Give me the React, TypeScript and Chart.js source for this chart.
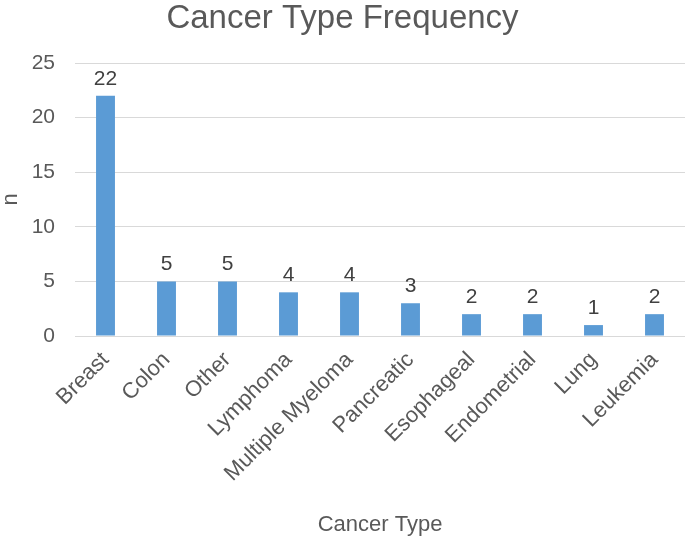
import React, { useEffect, useRef } from "react";
import { Chart, registerables } from "chart.js";

Chart.register(...registerables);

const categories = [
  "Breast",
  "Colon",
  "Other",
  "Lymphoma",
  "Multiple Myeloma",
  "Pancreatic",
  "Esophageal",
  "Endometrial",
  "Lung",
  "Leukemia",
];
const counts = [22, 5, 5, 4, 4, 3, 2, 2, 1, 2];
const yTicks = [0, 5, 10, 15, 20, 25];

const FONT = '"Liberation Sans", Arial, sans-serif';
const TEXT = "#595959";

const valueLabels = {
  id: "valueLabels",
  afterDatasetsDraw(chart: any) {
    const ctx = chart.ctx;
    const meta = chart.getDatasetMeta(0);
    ctx.save();
    ctx.font = `21px ${FONT}`;
    ctx.fillStyle = "#404040";
    ctx.textAlign = "center";
    ctx.textBaseline = "alphabetic";
    meta.data.forEach((bar: any, i: number) => {
      ctx.fillText(String(counts[i]), bar.x, bar.y - 11);
    });
    ctx.restore();
  },
};

export default function App() {
  const ref = useRef<HTMLCanvasElement | null>(null);
  useEffect(() => {
    if (!ref.current) return;
    const chart = new Chart(ref.current, {
      type: "bar",
      data: {
        labels: categories,
        datasets: [
          {
            data: counts,
            backgroundColor: "#5B9BD5",
            barPercentage: 0.31,
            categoryPercentage: 1,
          },
        ],
      },
      plugins: [valueLabels],
      options: {
        animation: false,
        responsive: false,
        maintainAspectRatio: false,
        layout: { padding: 0 },
        plugins: {
          legend: { display: false },
          tooltip: { enabled: false },
          title: {
            display: true,
            text: "Cancer Type Frequency",
            color: TEXT,
            font: { family: FONT, size: 33, weight: "normal", lineHeight: 1 },
            padding: { top: 2, bottom: 28 },
          },
        },
        scales: {
          x: {
            grid: { display: false, drawTicks: false },
            border: { display: true, color: "#D9D9D9", width: 1 },
            ticks: {
              color: TEXT,
              font: { family: FONT, size: 22 },
              maxRotation: 45,
              minRotation: 45,
              padding: 11,
              autoSkip: false,
            },
            title: {
              display: true,
              text: "Cancer Type",
              color: TEXT,
              font: { family: FONT, size: 22 },
              padding: { top: 0, bottom: 1 },
            },
            afterFit(scale: any) {
              scale.height = 203;
            },
          },
          y: {
            min: 0,
            max: 25,
            afterBuildTicks(scale: any) {
              scale.ticks = yTicks.map((v) => ({ value: v }));
            },
            grid: { color: "#D9D9D9", drawTicks: false },
            border: { display: false },
            ticks: {
              color: TEXT,
              font: { family: FONT, size: 21 },
              padding: 20,
            },
            title: {
              display: true,
              text: "n",
              color: TEXT,
              font: { family: FONT, size: 22, lineHeight: 1 },
              padding: 0,
            },
            afterFit(scale: any) {
              scale.width = 75;
            },
          },
        },
      },
    });
    return () => chart.destroy();
  }, []);
  return (
    <div style={{ position: "absolute", left: 0, top: 0, width: 685, height: 539, background: "#fff" }}>
      <canvas ref={ref} width={685} height={539} style={{ width: 685, height: 539 }} />
    </div>
  );
}
